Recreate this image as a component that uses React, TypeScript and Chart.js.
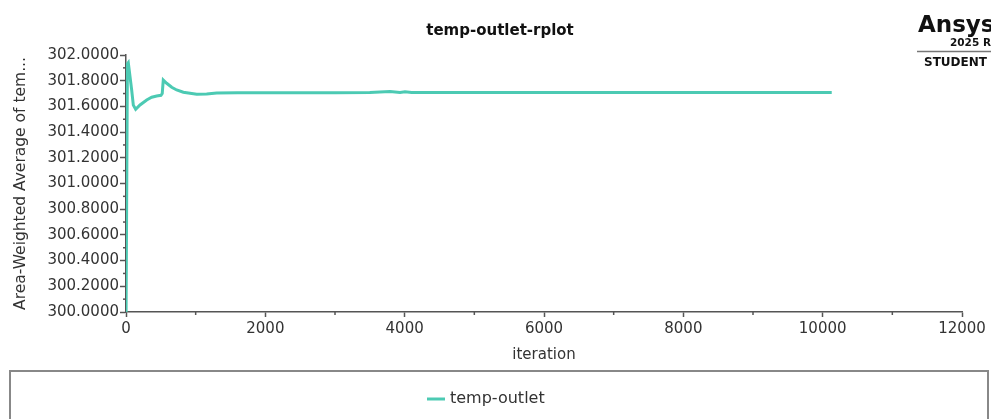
import React, { useEffect, useRef } from "react";
import { Chart, registerables } from "chart.js";

Chart.register(...registerables);

const chartTitle = "temp-outlet-rplot";
const seriesLabel = "temp-outlet";
const xTitle = "iteration";
const yTitle = "Area-Weighted Average of tem...";

const iterations = [
  1, 20, 33, 81, 105, 139, 201, 297, 369, 440, 502, 520, 535, 584, 656, 727,
  823, 919, 1015, 1158, 1302, 1600, 2000, 2500, 3000, 3500, 3790, 3933, 4005,
  4100, 4300, 5000, 6000, 7000, 8000, 9000, 10000, 10130,
];
const temperatures = [
  300.0, 301.93, 301.94, 301.73, 301.61, 301.577, 301.611, 301.65, 301.671,
  301.681, 301.686, 301.7, 301.805, 301.78, 301.749, 301.728, 301.71, 301.702,
  301.694, 301.697, 301.705, 301.707, 301.707, 301.707, 301.707, 301.708,
  301.716, 301.709, 301.714, 301.709, 301.708, 301.708, 301.708, 301.708,
  301.708, 301.708, 301.708, 301.708,
];

const xMin = 0;
const xMax = 12000;
const xStep = 2000;
const yMin = 300;
const yMax = 302;
const yStep = 0.2;

const FONT = "DejaVu Sans";
const LINE_COLOR = "#4ccab3";
const AXIS_COLOR = "#555555";
const TEXT_COLOR = "#333333";

const decorPlugin = {
  id: "decor",
  afterDraw(chart: any) {
    const ctx = chart.ctx as CanvasRenderingContext2D;
    const xs = chart.scales.x;
    const ys = chart.scales.y;
    ctx.save();
    // minor ticks
    ctx.strokeStyle = AXIS_COLOR;
    ctx.lineWidth = 1.5;
    for (let v = xMin + xStep / 2; v < xMax; v += xStep) {
      const px = xs.getPixelForValue(v);
      ctx.beginPath();
      ctx.moveTo(px, xs.top);
      ctx.lineTo(px, xs.top + 3);
      ctx.stroke();
    }
    for (let i = 0; i < (yMax - yMin) / yStep; i++) {
      const v = yMin + yStep * i + yStep / 2;
      const py = ys.getPixelForValue(v);
      ctx.beginPath();
      ctx.moveTo(ys.right, py);
      ctx.lineTo(ys.right - 3, py);
      ctx.stroke();
    }
    // title
    ctx.fillStyle = "#111111";
    ctx.font = `bold 15px "${FONT}"`;
    ctx.textAlign = "center";
    ctx.textBaseline = "middle";
    ctx.fillText(chartTitle, 500, 31);

    // logo
    ctx.textAlign = "left";
    ctx.fillStyle = "#111111";
    ctx.font = `bold 23px "${FONT}"`;
    ctx.fillText("Ansys", 918, 26);
    ctx.font = `bold 10.5px "${FONT}"`;
    ctx.fillText("2025 R1", 950, 43);
    ctx.strokeStyle = "#777777";
    ctx.lineWidth = 1.5;
    ctx.beginPath();
    ctx.moveTo(917, 51.5);
    ctx.lineTo(991, 51.5);
    ctx.stroke();
    ctx.font = `bold 12px "${FONT}"`;
    ctx.fillText("STUDENT", 924, 63);

    // legend box
    ctx.strokeStyle = "#888888";
    ctx.lineWidth = 2;
    ctx.strokeRect(10, 371, 978, 100);
    const ds = chart.data.datasets[0];
    ctx.strokeStyle = ds.borderColor;
    ctx.lineWidth = 3;
    ctx.beginPath();
    ctx.moveTo(427, 399);
    ctx.lineTo(445, 399);
    ctx.stroke();
    ctx.fillStyle = TEXT_COLOR;
    ctx.font = `16px "${FONT}"`;
    ctx.textBaseline = "middle";
    ctx.fillText(ds.label, 450, 399);
    ctx.restore();
  },
};

export default function App() {
  const ref = useRef<HTMLCanvasElement>(null);
  useEffect(() => {
    const points = iterations.map((it, i) => ({ x: it, y: temperatures[i] }));
    const chart = new Chart(ref.current!, {
      type: "line",
      data: {
        datasets: [
          {
            label: seriesLabel,
            data: points,
            borderColor: LINE_COLOR,
            backgroundColor: LINE_COLOR,
            borderWidth: 3,
            pointRadius: 0,
            tension: 0,
            fill: false,
          },
        ],
      },
      options: {
        animation: false,
        responsive: false,
        devicePixelRatio: 1,
        layout: { padding: { top: 55, right: 29, bottom: 48, left: 0 } },
        plugins: {
          legend: { display: false },
          title: { display: false },
          tooltip: { enabled: false },
        },
        scales: {
          x: {
            type: "linear",
            min: xMin,
            max: xMax,
            afterFit: (s: any) => {
              s.height = 59;
            },
            ticks: {
              stepSize: xStep,
              font: { family: FONT, size: 15 },
              color: TEXT_COLOR,
              padding: 3,
              maxRotation: 0,
              callback: (v: any) => String(v),
            },
            grid: {
              drawOnChartArea: false,
              drawTicks: true,
              tickLength: 5,
              tickColor: AXIS_COLOR,
              tickWidth: 1.5,
            },
            border: { display: true, color: AXIS_COLOR, width: 1.5 },
            title: {
              display: true,
              text: xTitle,
              font: { family: FONT, size: 15 },
              color: TEXT_COLOR,
              padding: { top: 0, bottom: 7 },
            },
          },
          y: {
            type: "linear",
            min: yMin,
            max: yMax,
            afterFit: (s: any) => {
              s.width = 126;
            },
            ticks: {
              stepSize: yStep,
              font: { family: FONT, size: 15 },
              color: TEXT_COLOR,
              padding: 1,
              callback: (v: any) => Number(v).toFixed(4),
            },
            grid: {
              drawOnChartArea: false,
              drawTicks: true,
              tickLength: 6,
              tickColor: AXIS_COLOR,
              tickWidth: 1.5,
            },
            border: { display: true, color: AXIS_COLOR, width: 1.5 },
            title: {
              display: true,
              text: yTitle,
              font: { family: FONT, size: 15.5 },
              color: TEXT_COLOR,
              padding: { top: 12, bottom: 0 },
            },
          },
        },
      },
      plugins: [decorPlugin],
    });
    return () => chart.destroy();
  }, []);
  return (
    <div
      style={{
        position: "absolute",
        left: 0,
        top: 0,
        width: 991,
        height: 419,
        background: "#ffffff",
        overflow: "hidden",
      }}
    >
      <canvas ref={ref} width={991} height={419} style={{ display: "block" }} />
    </div>
  );
}
